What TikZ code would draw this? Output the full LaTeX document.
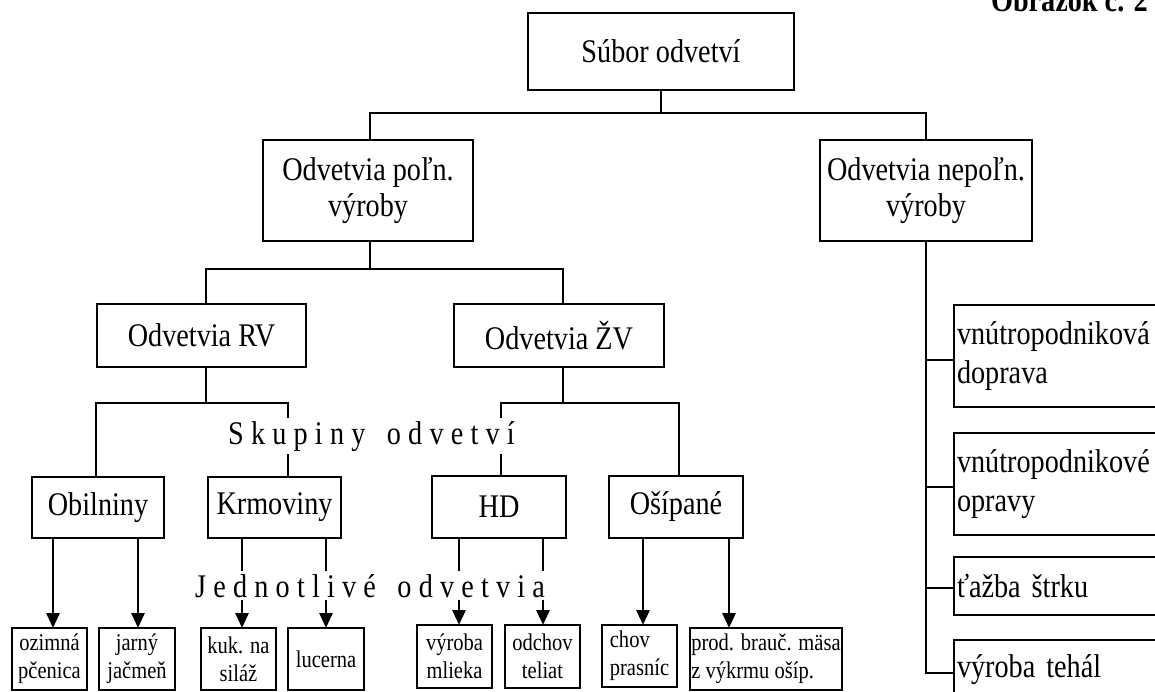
\documentclass[tikz,border=0pt]{standalone}
\usepackage{fontspec}
\setmainfont{Liberation Serif}[FakeStretch=0.855]
\usetikzlibrary{arrows.meta}
\newcommand\mainf{\fontsize{33}{36}\selectfont}
\newcommand\leaff{\fontsize{24}{28}\selectfont}
\newcommand\rightf{\fontsize{33}{39.5}\selectfont}
\newcommand\lsp{\kern7.2pt}
\begin{document}
\begin{tikzpicture}[x=1pt,y=-1pt,
  box/.style={draw, line width=1.8pt, inner sep=0pt, outer sep=0pt, align=center, font=\mainf},
  leaf/.style={box, font=\leaff},
  rbox/.style={draw, line width=1.8pt, anchor=north west, inner xsep=3pt, inner ysep=0pt, outer sep=0pt, text width=220pt, align=left, font=\rightf},
  conn/.style={line width=1.8pt},
  arr/.style={line width=2.8pt, -{Triangle[length=15pt,width=13pt]}},
  lbl/.style={fill=white, inner sep=3pt, font=\mainf, anchor=base west}]
\useasboundingbox (0,0) rectangle (1155,692);
\clip (0,0) rectangle (1155,692);
\fill[white] (0,0) rectangle (1155,692);

% title
\node[font=\bfseries\mainf, anchor=base east, inner sep=0pt] (title) at (1148,12) {Obrázok č. 2};

% main boxes
\node[box, minimum width=266, minimum height=77] (sub) at (661,51.5) {Súbor odvetví};
\node[box, minimum width=210, minimum height=101] (pol) at (368,190.5) {Odvetvia poľn.\\výroby};
\node[box, minimum width=212, minimum height=101] (nep) at (926,190.5) {Odvetvia nepoľn.\\výroby};
\node[box, minimum width=209, minimum height=63] (rv) at (201.5,335.5) {Odvetvia RV};
\node[box, minimum width=210, minimum height=63] (zv) at (559,335.5) {Odvetvia ŽV};
\node[box, minimum width=132, minimum height=61] (obil) at (98,507.5) {Obilniny};
\node[box, minimum width=133, minimum height=61] (krm) at (274.5,507.5) {Krmoviny};
\node[box, minimum width=134, minimum height=62] (hd) at (499,507) {HD};
\node[box, minimum width=134, minimum height=62] (osi) at (676,507) {Ošípané};

% leaves
\node[leaf, minimum width=75, minimum height=62] (l1) at (49.5,659) {ozimná\\pčenica};
\node[leaf, minimum width=76, minimum height=62] (l2) at (137,659) {jarný\\jačmeň};
\node[leaf, minimum width=75, minimum height=62] (l3) at (238.5,659) {kuk. na\\siláž};
\node[leaf, minimum width=76, minimum height=62] (l4) at (326,659) {lucerna};
\node[leaf, minimum width=75, minimum height=63] (l5) at (454.5,656.5) {výroba\\mlieka};
\node[leaf, minimum width=75, minimum height=63] (l6) at (542.5,656.5) {odchov\\teliat};
\node[leaf, align=left, minimum width=75, minimum height=62] (l7) at (639.5,656) {chov\\prasníc};
\node[leaf, align=left, minimum width=152, minimum height=62] (l8) at (766,659) {prod. brauč. mäsa\\z výkrmu ošíp.};

% right boxes
\node[rbox, minimum height=102] (r1) at (954,305) {vnútropodniková\\doprava};
\node[rbox, minimum height=102] (r2) at (954,433) {vnútropodnikové\\opravy};
\node[rbox, minimum height=58] (r3) at (954,557) {ťažba štrku};
\node[rbox, minimum height=60] (r4) at (954,640) {výroba tehál};

% connectors top
\draw[conn] (sub.south) -- ++(0,23) coordinate (j1);
\draw[conn] ([xshift=2pt]pol.north) |- (j1) -| (nep.north);

\coordinate (j2) at (370,269);
\draw[conn] ([xshift=2pt]pol.south) -- (j2);
\draw[conn] ([xshift=4.5pt]rv.north) |- (j2) -| ([xshift=4pt]zv.north);

\coordinate (j3) at (206,403);
\draw[conn] ([xshift=4.5pt]rv.south) -- (j3);
\draw[conn] ([xshift=-2pt]obil.north) |- (j3) -| ([xshift=13.5pt]krm.north);

\coordinate (j4) at (563,403);
\draw[conn] ([xshift=4pt]zv.south) -- (j4);
\draw[conn] ([xshift=2pt]hd.north) |- (j4) -| ([xshift=3pt]osi.north);

% right column
\draw[conn] (nep.south) |- ([yshift=-3pt]r4.west);
\draw[conn] (nep.south |- r1.west) ++(0,4) -- ([yshift=-4pt]r1.west);
\draw[conn] (nep.south |- r2.west) ++(0,3) -- ([yshift=-3pt]r2.west);
\draw[conn] (nep.south |- r3.west) ++(0,2) -- ([yshift=-2pt]r3.west);

% arrows to leaves
\draw[arr] ([xshift=-45pt]obil.south) -- ([xshift=-45pt]obil.south |- l1.north);
\draw[arr] ([xshift=40pt]obil.south) -- ([xshift=40pt]obil.south |- l2.north);
\draw[arr] ([xshift=-32.5pt]krm.south) -- ([xshift=-32.5pt]krm.south |- l3.north);
\draw[arr] ([xshift=51.5pt]krm.south) -- ([xshift=51.5pt]krm.south |- l4.north);
\draw[arr] ([xshift=-40pt]hd.south) -- ([xshift=-40pt]hd.south |- l5.north);
\draw[arr] ([xshift=44pt]hd.south) -- ([xshift=44pt]hd.south |- l6.north);
\draw[arr] ([xshift=-33pt]osi.south) -- ([xshift=-33pt]osi.south |- l7.north);
\draw[arr] ([xshift=53pt]osi.south) -- ([xshift=53pt]osi.south |- l8.north);

% spaced labels
\node[lbl] (skup) at (225,444) {S\lsp k\lsp u\lsp p\lsp i\lsp n\lsp y\lsp{} \lsp o\lsp d\lsp v\lsp e\lsp t\lsp v\lsp í};
\node[lbl] (jedn) at (192,597) {J\lsp e\lsp d\lsp n\lsp o\lsp t\lsp l\lsp i\lsp v\lsp é\lsp{} \lsp o\lsp d\lsp v\lsp e\lsp t\lsp v\lsp i\lsp a};
\end{tikzpicture}
\end{document}
